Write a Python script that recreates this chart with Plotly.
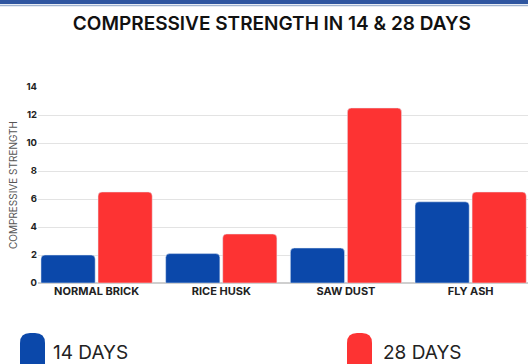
import plotly.graph_objects as go

categories = ["NORMAL BRICK", "RICE HUSK", "SAW DUST", "FLY ASH"]
days14 = [2.0, 2.1, 2.5, 5.8]
days28 = [6.5, 3.5, 12.5, 6.5]
series_names = ["14 DAYS", "28 DAYS"]
y_ticks = [0, 2, 4, 6, 8, 10, 12, 14]

BLUE = "#0b48aa"
RED = "#fd3333"
W, H = 528, 364
ML, MR, MT, MB = 38, 0, 87, 81

fig = go.Figure()
xs = list(range(len(categories)))
fig.add_bar(x=xs, y=days14, name=series_names[0], marker_color=BLUE, showlegend=False)
fig.add_bar(x=xs, y=days28, name=series_names[1], marker_color=RED, showlegend=False)

fig.update_layout(
    width=W, height=H,
    margin=dict(l=ML, r=MR, t=MT, b=MB),
    paper_bgcolor="white", plot_bgcolor="white",
    barmode="group", bargap=0.085, bargroupgap=0.05,
    barcornerradius=4,
    font=dict(family="Inter", color="#222"),
    title=dict(text="COMPRESSIVE STRENGTH IN 14 &amp; 28 DAYS",
               x=0.515, xanchor="center", y=1 - 23 / H, yanchor="middle",
               font=dict(size=19, family="Inter", weight=600, color="#111")),
)
fig.update_xaxes(tickmode="array", tickvals=xs, ticktext=categories,
                 range=[-0.47, 3.46], showgrid=False, ticks="",
                 tickfont=dict(size=11, weight=700, color="#222"),
                 showline=False, zeroline=False)
fig.update_yaxes(range=[0, 14], tickvals=y_ticks, showgrid=True,
                 gridcolor="#e3e3e3", gridwidth=1, zeroline=True,
                 zerolinecolor="#cfcfcf", ticks="",
                 tickfont=dict(size=9.5, weight=700, color="#222"),
                 title=dict(text="COMPRESSIVE STRENGTH", standoff=6,
                            font=dict(size=10, color="#555")))

pw, ph = W - ML - MR, H - MT - MB
def px(x):
    return (x - ML) / pw
def py(y):
    return (H - MB - y) / ph

# top banner stripe
fig.add_shape(type="rect", xref="paper", yref="paper",
              x0=px(0), x1=1, y0=py(4), y1=py(0),
              fillcolor="#2f56a0", line_width=0, layer="above")
fig.add_shape(type="line", xref="paper", yref="paper",
              x0=px(0), x1=1, y0=py(5.5), y1=py(5.5),
              line=dict(color="#9fb2cf", width=1.5))

# legend drawn as rounded markers + labels
def rounded(x0, x1, y0, y1, r):
    # pixel coords, y0 top
    pts = [
        f"M {px(x0)},{py(y1)}",
        f"L {px(x0)},{py(y0 + r)}",
        f"Q {px(x0)},{py(y0)} {px(x0 + r)},{py(y0)}",
        f"L {px(x1 - r)},{py(y0)}",
        f"Q {px(x1)},{py(y0)} {px(x1)},{py(y0 + r)}",
        f"L {px(x1)},{py(y1)}",
        "Z",
    ]
    return " ".join(pts)

for (x0, color, label, tx) in [(20, BLUE, series_names[0], 51),
                               (347, RED, series_names[1], 381)]:
    fig.add_shape(type="path", xref="paper", yref="paper",
                  path=rounded(x0, x0 + 25, 333, 370, 10),
                  fillcolor=color, line_width=0)
    fig.add_annotation(text=label, xref="paper", yref="paper",
                       x=px(tx), y=py(352), xanchor="left", yanchor="middle",
                       showarrow=False, font=dict(size=19, family="Inter", color="#222"))

fig.write_html("out.html")
